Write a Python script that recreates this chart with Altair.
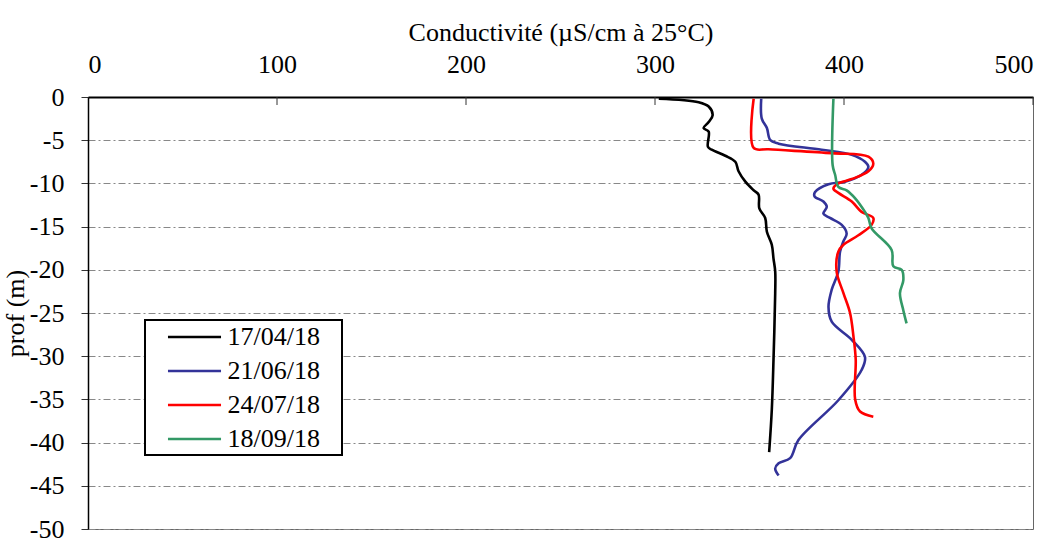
import altair as alt
import pandas as pd

# Conductivity profiles (µS/cm at 25 °C) versus depth (m), one per survey date
dates = ["17/04/18", "21/06/18", "24/07/18", "18/09/18"]
colors = ["#000000", "#333399", "#FF0000", "#339966"]

depth_0417 = [-0.2, -0.6, -1.1, -2.1, -2.9, -3.6, -4.0, -5.75, -6.1, -6.8, -7.5, -8.6,
              -9.8, -10.8, -11.3, -12.9, -14.0, -15.6, -17.1, -18.7, -20.2, -22.7,
              -30.4, -36.2, -41.1]
cond_0417 = [302.0, 323.1, 328.4, 330.5, 328.4, 325.7, 328.4, 328.0, 330.0, 337.2, 342.5,
             344.2, 347.8, 352.2, 354.8, 355.2, 358.3, 359.2, 361.8, 362.7, 363.6, 363.6,
             362.7, 361.8, 360.4]

depth_0621 = [-0.2, -2.5, -3.6, -5.0, -5.4, -6.1, -6.7, -7.5, -8.1, -9.0, -9.8, -10.1,
              -11.0, -11.5, -12.1, -12.7, -13.5, -14.0, -14.8, -15.8, -16.7, -17.9, -20.2,
              -22.3, -24.3, -26.0, -28.1, -30.1, -31.6, -35.1, -39.7, -41.8, -42.4, -43.0,
              -43.8]
cond_0621 = [356.2, 356.5, 359.2, 361.0, 365.4, 388.2, 404.1, 411.1, 412.9, 409.3, 400.5,
             391.8, 384.7, 384.4, 389.1, 390.9, 389.1, 392.6, 398.8, 401.4, 399.7, 397.9,
             397.0, 393.5, 391.8, 393.5, 404.1, 411.1, 409.3, 397.0, 375.9, 371.5, 365.4,
             363.6, 365.4]

depth_0724 = [-0.2, -5.9, -6.05, -6.5, -6.9, -7.7, -8.6, -9.5, -10.0, -10.6, -11.1, -12.1,
              -13.3, -14.0, -14.8, -16.0, -17.1, -17.9, -20.2, -22.7, -25.0, -27.7, -30.4,
              -35.0, -36.4, -37.0]
cond_0724 = [352.2, 352.2, 360.1, 393.5, 412.9, 415.5, 412.9, 404.1, 397.0, 394.4, 397.0,
             404.1, 409.3, 415.5, 414.6, 407.6, 399.7, 397.0, 396.1, 399.7, 403.2, 405.0,
             406.2, 405.9, 408.5, 415.5]

depth_0918 = [-0.2, -7.9, -9.0, -10.4, -10.8, -11.7, -13.3, -14.0, -15.2, -17.7, -19.6,
              -20.0, -21.2, -22.7, -24.7, -26.2]
cond_0918 = [394.4, 394.0, 395.3, 397.0, 401.4, 405.8, 411.1, 412.9, 414.6, 425.2, 426.1,
             430.5, 431.4, 429.6, 431.4, 433.1]

x_ticks = [0, 100, 200, 300, 400, 500]
y_ticks = [0, -5, -10, -15, -20, -25, -30, -35, -40, -45, -50]

series = [(dates[0], depth_0417, cond_0417), (dates[1], depth_0621, cond_0621),
          (dates[2], depth_0724, cond_0724), (dates[3], depth_0918, cond_0918)]
rows = []
for name, dep, con in series:
    for i, (d, c) in enumerate(zip(dep, con)):
        rows.append({"date": name, "prof": d, "cond": c, "idx": i})
df = pd.DataFrame(rows)

FONT = "Liberation Serif"
x_scale = alt.Scale(domain=[0, 500], nice=False)
y_scale = alt.Scale(domain=[-50, 0], nice=False)

# legend key: a 53 px stroke drawn inside a 26 px symbol cell
key_path = "M0.46,0H4.54"

lines = alt.Chart(df).mark_line(interpolate="catmull-rom", strokeWidth=2.6).encode(
    x=alt.X("cond:Q", scale=x_scale,
            axis=alt.Axis(orient="top", values=x_ticks, title="Conductivité (µS/cm à 25°C)",
                          grid=False, tickSize=0, labelPadding=20, titlePadding=6,
                          domainColor="#000000", domainWidth=2, labelFont=FONT,
                          labelFontSize=26, labelColor="#000000", titleFont=FONT,
                          titleFontSize=26, titleFontWeight="normal", titleColor="#000000")),
    y=alt.Y("prof:Q", scale=y_scale,
            axis=alt.Axis(values=y_ticks, title="prof (m)", grid=True, gridColor="#888888",
                          gridDash=[7, 3, 2, 3], gridWidth=1, tickSize=7, tickColor="#333333",
                          labelPadding=17, domainColor="#000000", domainWidth=1.5,
                          labelExpr="datum.value < 0 ? '-' + abs(datum.value) : '' + datum.value",
                          labelFont=FONT, labelFontSize=26, labelColor="#000000",
                          titleFont=FONT, titleFontSize=26, titleFontWeight="normal",
                          titleColor="#000000", titleX=-73, titleY=216, titleAlign="center",
                          titleBaseline="middle", titleAngle=270)),
    color=alt.Color("date:N", scale=alt.Scale(domain=dates, range=colors),
                    legend=alt.Legend(title="x", titleOrient="right", titleOpacity=0,
                                      titleFontSize=20, titlePadding=8,
                                      orient="none", legendX=57, legendY=223,
                                      symbolType=key_path, symbolSize=676,
                                      symbolStrokeWidth=2.6, symbolFillColor="transparent",
                                      labelFont=FONT, labelFontSize=26, labelColor="#000000",
                                      strokeColor="#000000", fillColor="#FFFFFF",
                                      padding=2.5, rowPadding=6, labelOffset=51)),
    order="idx:Q",
)

# inward tick marks on the top axis
ticks = alt.Chart(pd.DataFrame({"t": x_ticks[1:]})).mark_rule(color="#333333", strokeWidth=1).encode(
    x=alt.X("t:Q", scale=x_scale), y=alt.value(0), y2=alt.value(8)
)

chart = alt.layer(lines, ticks).properties(
    width=945, height=432,
    autosize=alt.AutoSizeParams(type="none"),
    padding={"left": 88, "top": 97, "right": 21, "bottom": 10},
).configure_view(stroke="#666666", strokeWidth=1).configure_legend(strokeWidth=2)

chart.save("out.html", embed_options={"renderer": "svg", "actions": False})
